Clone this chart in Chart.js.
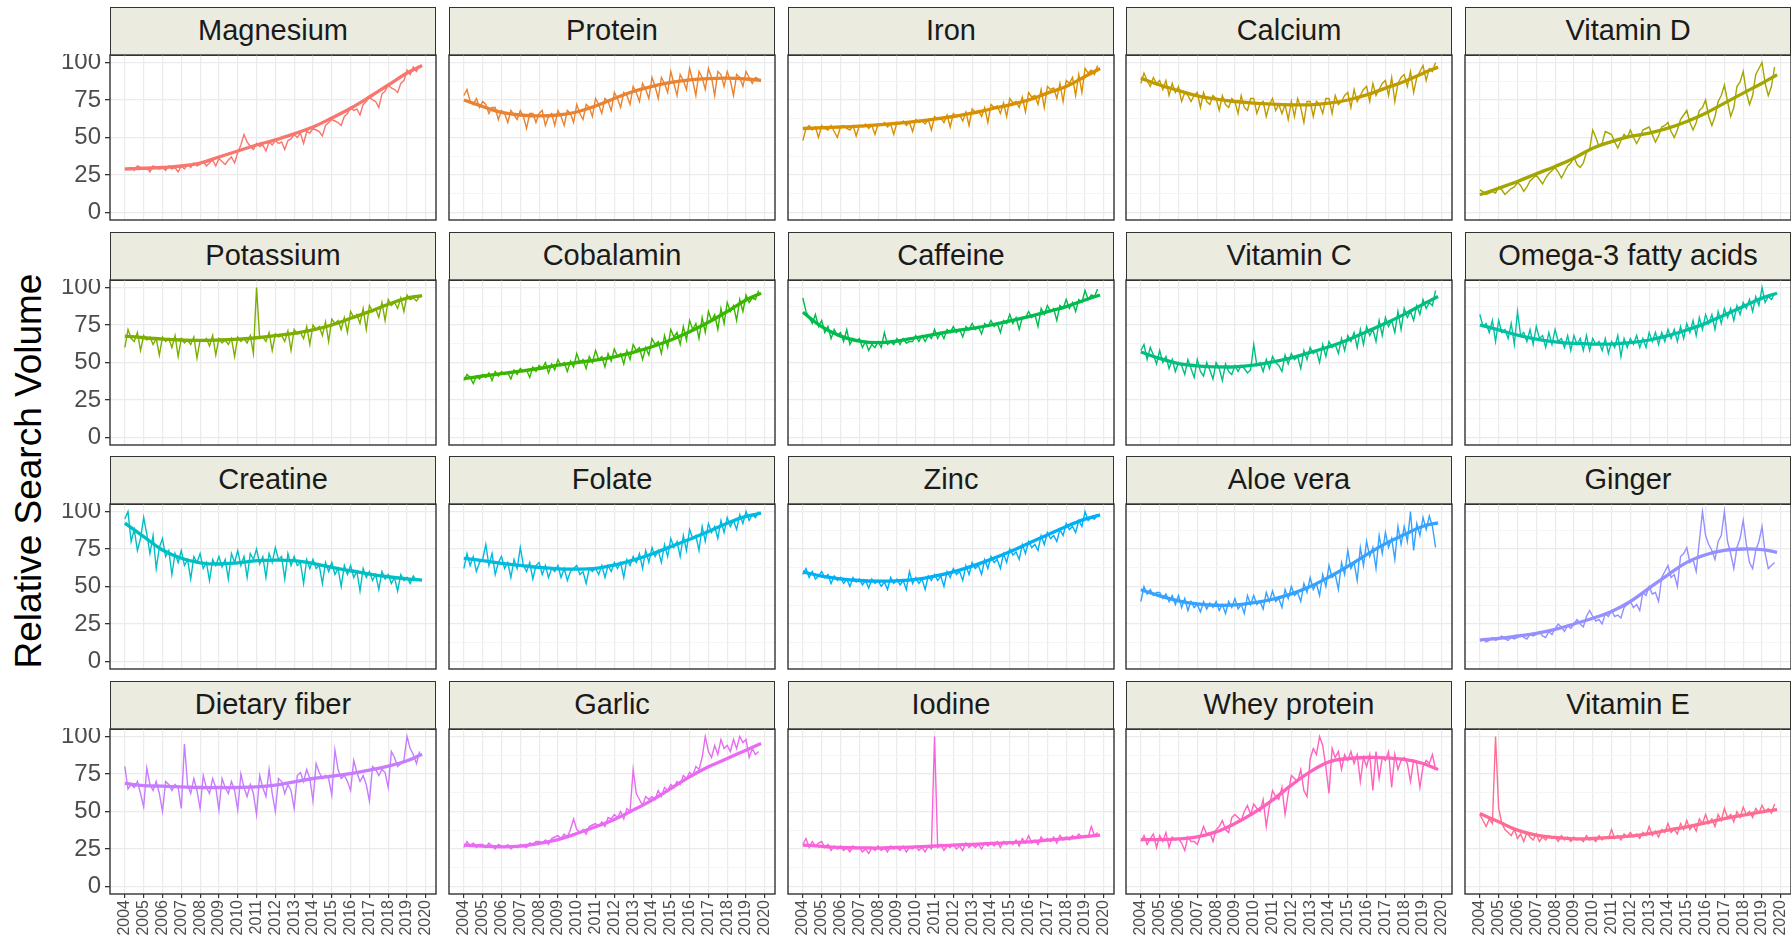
<!DOCTYPE html>
<html>
<head>
<meta charset="utf-8">
<script src="https://cdn.jsdelivr.net/npm/chart.js@4.4.1/dist/chart.umd.min.js"></script>
<style>
  body { margin: 0; background: #fff; width: 1791px; height: 943px; overflow: hidden; position: relative;
         font-family: "Liberation Sans", Arial, sans-serif; }
  .strip { position: absolute; background: #EBEBE0; border: 1.4px solid #333; box-sizing: border-box;
           text-align: center; color: #1a1a1a; font-size: 29px; line-height: 44px; }
  .panel { position: absolute; }
  #ytitle { position: absolute; width: 600px; height: 44px; line-height: 44px; text-align: center;
            font-size: 37px; color: #000; transform: rotate(-90deg); }
</style>
</head>
<body>
<div id="ytitle">Relative Search Volume</div>
<script>
// facet names and colours (ggplot hue palette)
const panelNames = ["Magnesium", "Protein", "Iron", "Calcium", "Vitamin D",
  "Potassium", "Cobalamin", "Caffeine", "Vitamin C", "Omega-3 fatty acids",
  "Creatine", "Folate", "Zinc", "Aloe vera", "Ginger",
  "Dietary fiber", "Garlic", "Iodine", "Whey protein", "Vitamin E"];
const panelColors = ["#F8766D", "#EA8331", "#D89000", "#C09B00", "#A3A500",
  "#7CAE00", "#39B600", "#00BB4E", "#00BF7D", "#00C1A3",
  "#00BFC4", "#00BAE0", "#00B0F6", "#35A2FF", "#9590FF",
  "#C77CFF", "#E76BF3", "#FA62DB", "#FF62BC", "#FF6C91"];

// raw series: one value every two months from Jan 2004
const monthStart = 2004;
const monthStep = 2 / 12;
// smooth trend: one value per year
const trendYears = [2004, 2005, 2006, 2007, 2008, 2009, 2010, 2011, 2012, 2013, 2014, 2015, 2016, 2017, 2018, 2019, 2019.8];
const yearTicks = [2004, 2005, 2006, 2007, 2008, 2009, 2010, 2011, 2012, 2013, 2014, 2015, 2016, 2017, 2018, 2019, 2020];
const yTicks = [0, 12.5, 25, 37.5, 50, 62.5, 75, 87.5, 100];

const magnesium = [29,29,30,28,31,30, 29,30,27,31,30,29, 30,28,31,29,30,27, 31,29,32,30,33,31,
  32,34,31,33,35,31, 36,34,32,35,37,33, 40,45,52,47,44,42, 46,44,45,41,47,45,
  48,46,47,42,48,49, 52,50,53,46,54,53, 56,55,54,51,58,60, 62,61,60,58,64,66,
  70,68,69,65,72,74, 77,75,74,70,79,81, 85,83,82,80,86,88, 95,92,97,94,98];
const magnesiumTrend = [29,29.5,30,31,33,37,41,45,48.4,52.5,57,63,69.5,77,85,93,98];

const protein = [78,82,74,72,76,70, 74,72,66,70,70,62, 68,66,60,68,65,62, 68,64,56,66,66,60,
  66,68,58,64,66,58, 68,64,58,68,66,60, 72,66,62,72,70,64, 76,72,66,76,74,68,
  80,76,70,80,78,72, 84,80,74,86,82,76, 90,84,76,90,86,80, 94,86,78,92,88,82,
  96,88,78,94,90,82, 96,90,78,94,92,84, 94,88,78,92,90,84, 94,90,86,90,89];
const proteinTrend = [75,70.7,66.7,65,64.4,65,67,71,76,80.7,84,86.7,88.4,89.3,89.6,89,88];

const iron = [48,56,58,55,57,50, 58,56,55,58,54,50, 57,58,56,55,58,51, 58,57,59,56,58,52,
  59,58,60,57,59,52, 60,59,61,58,60,54, 62,60,61,59,62,55, 64,62,63,60,65,57,
  66,64,65,61,67,58, 69,67,68,64,70,60, 72,70,71,66,73,64, 76,73,74,70,77,67,
  80,77,78,72,82,70, 84,82,83,76,86,74, 88,86,90,78,92,80, 96,93,95,92,98];
const ironTrend = [56,56.5,57,57.6,58.4,59.5,60.7,62.2,64,66.2,69,71.8,75,79.6,84,90.7,96];

const calcium = [86,93,88,84,90,86, 88,82,88,78,86,80, 84,74,80,78,74,78, 80,70,80,74,72,78,
  76,68,78,72,70,76, 74,66,78,70,68,76, 76,66,72,74,64,72, 76,68,72,66,72,62,
  74,64,76,70,60,74, 74,64,74,72,66,76, 76,66,78,72,74,78, 80,70,82,74,78,82,
  84,74,86,78,82,86, 88,78,90,74,86,90, 92,84,94,80,90,94, 98,88,96,94,100];
const calciumTrend = [89.6,85,81.3,77.8,75.6,74,72.9,72.2,71.8,71.8,72.9,75,78.4,82.9,87.3,92.9,96.9];

const vitaminD = [15,14,12,13,14,13, 17,15,12,14,16,17, 20,18,14,17,21,23, 25,22,19,23,26,28,
  30,27,23,27,31,33, 37,32,30,33,40,42, 55,50,44,46,54,53, 52,47,43,48,52,50,
  55,50,46,50,55,56, 57,52,47,51,57,58, 60,54,50,55,62,65, 68,60,55,60,68,70,
  75,64,58,64,74,78, 85,74,64,70,84,87, 94,80,72,78,92,96, 100,86,78,84,97];
const vitaminDTrend = [11.8,16.2,20.7,25.8,30.7,36.2,42.9,47.3,50.7,52.9,56.2,60.7,66.2,72.9,79.6,86.2,91.8];

const potassium = [60,72,66,64,70,58, 68,65,67,62,66,55, 67,64,66,60,68,54, 66,63,65,62,67,53,
  65,64,66,61,68,55, 66,63,65,62,66,54, 67,64,66,63,68,56, 100,66,67,64,70,58,
  69,67,68,64,71,58, 72,69,70,66,74,62, 75,72,74,68,77,64, 79,76,78,72,80,70,
  84,80,82,76,86,72, 88,84,86,80,90,78, 92,88,90,86,93,84, 95,92,93,91,94];
const potassiumTrend = [67.6,66.5,65.6,65,64.7,65,65.6,66.5,67.9,69.4,71.7,75,79.5,83.9,88.8,92.9,94.6];

const cobalamin = [38,42,40,36,41,39, 42,40,43,38,44,41, 44,42,43,39,45,42, 46,44,45,40,47,44,
  48,46,50,43,49,45, 52,48,50,44,51,47, 56,50,52,46,54,50, 58,52,54,47,56,51,
  59,54,56,49,58,52, 62,58,60,52,60,55, 66,62,64,56,68,60, 72,67,70,62,74,65,
  78,72,76,66,80,70, 84,78,82,72,86,76, 90,84,88,78,92,84, 95,90,93,92,98];
const cobalaminTrend = [39.3,41,42.6,44.2,46,48.2,50,51.6,53.8,56.7,60.5,65,70.5,76.8,84,91.7,96.2];

const caffeine = [93,84,80,76,82,74, 78,70,74,66,72,68, 70,64,72,62,66,64, 66,60,64,58,62,60,
  64,60,70,62,64,62, 66,62,66,63,64,64, 68,64,68,64,68,66, 72,66,70,66,72,70,
  74,70,72,67,74,72, 76,72,74,69,76,74, 78,74,76,70,78,76, 82,76,80,72,80,80,
  84,80,82,74,86,82, 88,84,86,78,88,86, 92,86,90,84,92,90, 98,92,95,94,99];
const caffeineTrend = [83.5,73.9,67.6,64.3,63.2,64.3,66.5,68.8,71,72.8,75,77.7,80.6,83.9,87.3,91.7,95];

const vitaminC = [58,62,52,60,55,49, 58,50,54,46,52,44, 50,48,42,52,46,40, 52,44,41,50,45,39,
  50,46,38,49,44,42, 48,44,48,46,43,45, 62,48,50,44,52,46, 54,50,48,44,55,49,
  56,52,54,46,58,52, 60,56,58,50,62,54, 64,60,62,56,66,58, 68,64,70,60,72,62,
  74,68,72,64,78,68, 80,74,78,70,84,72, 86,80,84,78,88,82, 92,86,90,88,98];
const vitaminCTrend = [57,52.7,49.3,47.8,47.1,47.1,48.2,50.4,53.1,56.7,60.5,65,70.5,76.1,82.1,88.8,94];

const omega3 = [82,74,76,70,78,64, 78,70,72,66,76,62, 84,68,70,64,72,62, 74,66,68,60,70,62,
  72,64,66,60,68,58, 68,62,66,58,68,58, 66,62,64,58,66,56, 64,60,68,54,66,60,
  66,62,68,60,66,60, 70,64,70,62,70,64, 72,66,72,64,74,66, 76,70,78,68,80,72,
  82,76,82,72,84,76, 86,80,86,78,88,82, 90,86,92,84,94,88, 100,90,94,92,96];
const omega3Trend = [75,71.7,68.3,65.6,63.8,62.7,62.3,62.3,63.2,65,67.9,71.7,76.1,81.7,87.3,92.9,96.2];

const creatine = [95,100,80,88,74,82, 96,85,72,84,62,76, 82,70,74,58,72,66, 74,64,68,55,70,66,
  72,62,66,54,68,64, 70,63,68,55,72,66, 74,64,70,56,72,68, 75,65,70,56,72,66,
  76,68,70,55,72,64, 70,64,66,52,68,62, 68,62,64,52,66,60, 66,58,62,50,64,58,
  64,56,60,47,62,56, 60,54,58,48,60,55, 58,52,56,47,58,54, 56,52,57,54,55];
const creatineTrend = [92.2,83.3,74.3,68.8,65.8,65,65.8,67.2,67.6,67.2,65.4,62.7,60.5,58.3,56.5,55.1,54.2];

const folate = [62,72,64,70,60,66, 68,78,64,72,58,66, 70,62,66,56,68,62, 76,64,60,66,55,64,
  66,58,64,56,62,60, 64,56,62,54,60,62, 64,58,60,52,62,60, 62,58,64,56,64,60,
  66,62,66,56,68,64, 70,66,72,62,74,66, 76,70,74,66,78,70, 82,76,80,70,84,74,
  88,82,84,74,90,80, 92,86,90,82,94,86, 96,90,94,88,98,92, 100,94,98,96,100];
const folateTrend = [68.8,67.2,65.4,64.1,62.7,61.8,61.6,62.1,64.3,67.6,71.7,76.6,81.5,86.6,92.2,96.7,98.9];

const zinc = [58,62,56,60,55,57, 60,56,58,52,57,54, 56,52,55,50,56,53, 55,51,54,49,55,52,
  54,50,53,48,56,52, 55,51,54,48,60,52, 56,52,55,48,57,54, 58,54,57,50,60,56,
  62,58,60,54,64,58, 66,62,64,58,68,62, 70,66,68,62,72,66, 75,71,73,68,78,72,
  80,76,78,74,84,78, 86,82,84,80,88,84, 92,88,90,86,94,90, 100,94,96,95,98];
const zincTrend = [59.8,56.9,55.1,54,53.6,53.8,54.7,56.9,59.8,63.6,68.1,73.2,78.8,84.4,90,94.9,97.8];

const aloeVera = [40,50,45,48,44,46, 46,42,45,40,44,38, 44,36,42,34,40,36, 38,33,40,35,39,36,
  40,34,38,32,40,36, 42,35,38,32,44,38, 44,38,40,35,46,40, 47,40,42,36,48,42,
  50,44,46,40,52,46, 56,48,52,44,58,50, 64,56,58,48,66,58, 74,62,66,54,76,64,
  80,70,76,62,84,72, 86,76,82,68,90,78, 90,80,100,74,92,84, 96,88,97,90,76];
const aloeVeraTrend = [47.8,43.8,40.4,38.4,37.5,37.7,39.3,41.5,45.1,50,56.3,63.4,71.2,78.6,84.6,90.2,92.4];

const ginger = [14,15,13,14,16,14, 15,17,15,14,16,15, 16,18,16,15,18,17, 18,20,17,16,20,18,
  22,25,23,20,24,22, 25,28,25,23,30,34, 30,27,28,25,32,30, 34,30,31,29,36,38,
  40,36,38,34,46,44, 50,45,46,40,56,60, 64,56,58,50,70,72, 76,66,68,60,80,100,
  84,78,74,68,80,84, 100,80,72,62,76,82, 94,78,66,62,74,80, 90,72,62,64,66];
const gingerTrend = [14.3,15.4,17,18.8,21.4,25,28.8,33.3,40,48.9,57.8,66.1,71.2,74.1,75,74.6,72.8];

const dietaryFiber = [80,65,68,66,70,62, 53,79,68,64,70,62, 50,70,68,64,68,66, 52,95,68,62,72,64,
  52,74,66,62,72,66, 51,72,66,62,70,64, 51,75,66,60,68,62, 48,74,66,60,78,62,
  50,72,70,62,68,64, 52,74,76,70,78,72, 57,82,76,72,74,72, 61,91,78,72,74,70,
  64,84,76,70,74,68, 57,80,78,74,78,76, 66,90,86,80,82,84, 100,92,88,82,90];
const dietaryFiberTrend = [68.7,67.3,66.9,66.4,66,66,66,66.4,67.6,69.8,72,73.6,75.3,77.6,80.2,83.8,88.2];

const garlic = [26,30,27,29,26,28, 28,26,29,27,25,28, 27,26,28,25,27,26, 28,27,26,29,28,30,
  30,29,31,28,32,33, 34,32,35,33,38,45, 38,36,38,35,40,41, 42,40,43,40,46,45,
  48,46,50,45,52,50, 78,62,58,54,60,58, 60,58,64,60,66,64, 68,66,70,68,74,72,
  76,74,80,78,86,100, 90,86,94,88,98,92, 94,90,98,92,100,96, 98,86,92,88,90];
const garlicTrend = [27.6,26.9,26.4,26.9,28.7,31.3,35.3,39.8,44.7,50.9,57.6,65.3,73.1,79.8,85.3,90.9,95.3];

const iodine = [28,32,26,30,27,29, 30,26,28,24,27,25, 27,24,26,23,27,25, 26,23,25,22,26,24,
  27,24,26,23,27,25, 26,24,27,23,26,25, 27,24,26,23,27,25, 100,26,28,24,27,26,
  28,25,27,24,29,26, 28,26,28,25,29,27, 29,27,30,26,30,28, 30,28,31,27,32,29,
  34,29,31,28,33,30, 32,30,33,29,34,31, 33,31,34,32,35,33, 34,33,40,34,36];
const iodineTrend = [27.6,26.8,26,25.8,25.6,26,26.4,27,27.6,28.1,28.7,29.2,29.8,30.9,32,33.2,34.2];

const wheyProtein = [30,34,28,32,35,26, 34,30,36,26,33,31, 32,29,24,33,30,30, 28,34,40,35,36,30,
  38,40,44,38,36,46, 48,46,44,50,54,48, 55,52,50,58,40,54, 64,60,58,66,48,62,
  74,72,70,78,64,60, 85,92,88,100,94,80, 62,92,86,90,78,88, 84,90,82,88,70,86,
  80,88,64,90,72,86, 84,90,66,88,78,84, 86,82,70,84,82,66, 80,84,82,88,78];
const wheyProteinTrend = [31.3,31.3,31.8,33.1,36.4,42,49.1,57.6,67.6,76.4,83.1,85.3,86,85.8,84.7,82,78];

const vitaminE = [48,44,40,45,42,100, 52,42,38,36,34,38, 32,35,30,36,33,31, 35,30,33,31,34,32,
  33,30,34,31,33,30, 33,31,32,30,34,31, 32,30,34,31,33,32, 38,32,34,31,35,33,
  36,33,35,32,36,34, 40,34,37,33,38,36, 42,36,38,35,42,38, 44,38,41,37,45,42,
  48,42,45,40,48,44, 52,46,48,43,50,46, 53,48,50,46,52,49, 54,50,52,49,55];
const vitaminETrend = [48.7,43.1,37.6,34.2,32.7,31.8,32,32.7,33.6,35.3,37.6,39.8,42.4,45.3,47.6,49.8,51.3];

const rawSeries = [magnesium, protein, iron, calcium, vitaminD, potassium, cobalamin, caffeine, vitaminC, omega3,
  creatine, folate, zinc, aloeVera, ginger, dietaryFiber, garlic, iodine, wheyProtein, vitaminE];
const trendSeries = [magnesiumTrend, proteinTrend, ironTrend, calciumTrend, vitaminDTrend, potassiumTrend,
  cobalaminTrend, caffeineTrend, vitaminCTrend, omega3Trend, creatineTrend, folateTrend, zincTrend,
  aloeVeraTrend, gingerTrend, dietaryFiberTrend, garlicTrend, iodineTrend, wheyProteinTrend, vitaminETrend];

// page layout
const left0 = 110, pitchX = 338.75, panelW = 326;
const top0 = 7, pitchY = 224.5, stripH = 48, plotH = 165;
const yAxisW = 65, xAxisH = 50;

const title = document.getElementById("ytitle");
title.style.left = (29 - 300) + "px";
title.style.top = (471 - 22) + "px";

// draw the panel frame over the plot area
const frame = {
  id: "frame",
  afterDraw(chart) {
    const a = chart.chartArea, ctx = chart.ctx;
    ctx.save();
    ctx.strokeStyle = "#333333";
    ctx.lineWidth = 1.4;
    ctx.strokeRect(a.left, a.top, a.right - a.left, a.bottom - a.top);
    ctx.restore();
  }
};

const isMajor = v => v % 25 === 0;
// keep label overhang from shrinking the plot area
const noPad = s => { s.paddingTop = 0; s.paddingBottom = 0; s.paddingLeft = 0; s.paddingRight = 0; };

panelNames.forEach((name, k) => {
  const col = k % 5, row = Math.floor(k / 5);
  const px = Math.round(left0 + col * pitchX);
  const py = Math.round(top0 + row * pitchY);

  const strip = document.createElement("div");
  strip.className = "strip";
  strip.textContent = name;
  strip.style.left = px + "px";
  strip.style.top = py + "px";
  strip.style.width = panelW + "px";
  strip.style.height = (stripH + 1) + "px";
  document.body.appendChild(strip);

  const yw = col === 0 ? yAxisW : 0;
  const xh = row === 3 ? xAxisH : 0;
  const box = document.createElement("div");
  box.className = "panel";
  box.style.left = (px - yw - 1) + "px";
  box.style.top = (py + stripH - 1) + "px";
  const canvas = document.createElement("canvas");
  canvas.width = panelW + yw + 2;
  canvas.height = plotH + xh + 2;
  box.appendChild(canvas);
  document.body.appendChild(box);

  const color = panelColors[k];
  new Chart(canvas, {
    type: "line",
    data: {
      datasets: [{
        data: trendSeries[k].map((v, i) => ({ x: trendYears[i], y: v })),
        borderColor: color,
        borderWidth: 3.3,
        pointRadius: 0,
        tension: 0.4
      }, {
        data: rawSeries[k].map((v, i) => ({ x: monthStart + i * monthStep, y: v })),
        borderColor: color,
        borderWidth: 1.4,
        pointRadius: 0,
        tension: 0
      }]
    },
    options: {
      responsive: false,
      animation: false,
      devicePixelRatio: 1,
      layout: { padding: 1 },
      plugins: { legend: { display: false }, tooltip: { enabled: false } },
      scales: {
        x: {
          type: "linear",
          min: 2003.21,
          max: 2020.54,
          afterBuildTicks: s => { s.ticks = yearTicks.map(v => ({ value: v })); },
          afterFit: s => { s.height = xh; noPad(s); },
          border: { display: false },
          grid: { color: "#EBEBEB", lineWidth: 1.2, drawTicks: row === 3, tickLength: 4, tickColor: "#333333" },
          ticks: {
            display: row === 3,
            autoSkip: false,
            minRotation: 90,
            maxRotation: 90,
            padding: 2,
            color: "#4D4D4D",
            font: { family: "Liberation Sans", size: 16 },
            callback: v => String(v)
          }
        },
        y: {
          min: -5,
          max: 105,
          afterBuildTicks: s => { s.ticks = yTicks.map(v => ({ value: v })); },
          afterFit: s => { s.width = yw; noPad(s); },
          border: { display: false },
          grid: {
            color: c => (c.tick && isMajor(c.tick.value)) ? "#EBEBEB" : "#F4F4F4",
            lineWidth: c => (c.tick && isMajor(c.tick.value)) ? 1.3 : 0.9,
            drawTicks: col === 0,
            tickLength: 5,
            tickColor: c => (c.tick && isMajor(c.tick.value)) ? "#333333" : "rgba(0,0,0,0)"
          },
          ticks: {
            display: col === 0,
            padding: 4,
            color: "#4D4D4D",
            font: { family: "Liberation Sans", size: 24 },
            callback: v => isMajor(v) ? String(v) : ""
          }
        }
      }
    },
    plugins: [frame]
  });
});
</script>
</body>
</html>
